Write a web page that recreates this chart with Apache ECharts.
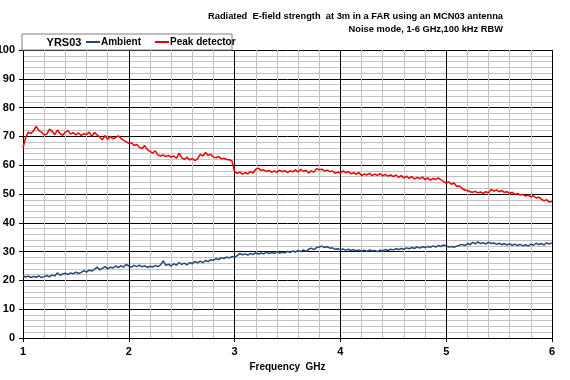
<!DOCTYPE html>
<html><head><meta charset="utf-8">
<script src="https://cdn.jsdelivr.net/npm/echarts@6/dist/echarts.min.js"></script>
<style>html,body{margin:0;padding:0;background:#fff}#c{width:570px;height:380px}</style>
</head><body><div id="c"></div>
<script>
const freq = [
1,1.025,1.05,1.075,1.1,1.125,1.15,1.175,1.2,1.225,1.25,1.275,1.3,1.325,1.35,1.375,1.4,1.425,1.45,1.475,
1.5,1.525,1.55,1.575,1.6,1.625,1.65,1.675,1.7,1.725,1.75,1.775,1.8,1.825,1.85,1.875,1.9,1.925,1.95,1.975,
2,2.025,2.05,2.075,2.1,2.125,2.15,2.175,2.2,2.225,2.25,2.275,2.3,2.325,2.35,2.375,2.4,2.425,2.45,2.475,
2.5,2.525,2.55,2.575,2.6,2.625,2.65,2.675,2.7,2.725,2.75,2.775,2.8,2.825,2.85,2.875,2.9,2.925,2.95,2.975,
3,3.025,3.05,3.075,3.1,3.125,3.15,3.175,3.2,3.225,3.25,3.275,3.3,3.325,3.35,3.375,3.4,3.425,3.45,3.475,
3.5,3.525,3.55,3.575,3.6,3.625,3.65,3.675,3.7,3.725,3.75,3.775,3.8,3.825,3.85,3.875,3.9,3.925,3.95,3.975,
4,4.025,4.05,4.075,4.1,4.125,4.15,4.175,4.2,4.225,4.25,4.275,4.3,4.325,4.35,4.375,4.4,4.425,4.45,4.475,
4.5,4.525,4.55,4.575,4.6,4.625,4.65,4.675,4.7,4.725,4.75,4.775,4.8,4.825,4.85,4.875,4.9,4.925,4.95,4.975,
5,5.025,5.05,5.075,5.1,5.125,5.15,5.175,5.2,5.225,5.25,5.275,5.3,5.325,5.35,5.375,5.4,5.425,5.45,5.475,
5.5,5.525,5.55,5.575,5.6,5.625,5.65,5.675,5.7,5.725,5.75,5.775,5.8,5.825,5.85,5.875,5.9,5.925,5.95,5.975,
6];
const peak = [
66,69.5,71.5,71,72,73.5,72,71.5,70.5,70.8,72.5,71.8,70.6,72.2,71,70.4,71.5,72,70.8,71.3,
70.5,71.2,70.3,71,70.6,71.5,70,71.4,70.5,69.8,68.8,70.3,69,70,69.2,69.6,70.2,69.4,68.6,68.2,
67.6,67.8,66.8,67.2,66.2,65.8,66.8,65.4,64.8,64.2,65,63.6,63.2,63.6,63,63.4,62.8,63.2,62.4,64.2,
62.6,62,62.8,61.8,62.4,61.6,62.2,63.8,63.2,64.4,63.4,63.8,62.8,62.6,63,62.2,62.4,62,61.9,61.5,
57.8,57.2,57.6,56.9,57.4,57,57.8,57.3,58.6,59,58.2,58.4,57.8,58.2,57.6,58,57.5,58.3,57.8,58.1,
57.4,58,57.7,58.4,57.6,58.6,57.9,58.2,57.3,58,57.6,58.8,58.4,58.6,58,58.3,57.8,58,57.2,57.6,
57.3,58,57.4,57.8,57,57.4,56.8,57.5,56.4,57,56.6,57.2,56.4,56.9,56.5,57.1,56.3,56.8,56.2,56.6,
56,56.6,55.8,56.4,55.6,56.2,55.4,56.1,55.2,55.8,55.3,55.9,55,55.6,54.8,55.4,55,55.6,54.9,54.4,
53.8,54.2,53.4,53.8,52.6,52.8,51.9,51.4,51.2,50.8,50.6,50.9,50.4,50.7,50.2,50.8,50.4,51.6,51,51.4,
50.8,51.2,50.6,50.8,50.2,50.6,49.8,50.2,49.6,49.9,49.3,49.6,49,49.4,48.6,48.9,48.2,47.6,48,47.2,
47.4];
const ambient = [
21.6,21.2,21.5,21,21.4,21.1,21.6,21,21.3,21.7,21.2,21.9,21.5,22.6,21.8,22.2,22.5,22,22.6,22.3,
22.9,22.4,22.8,23.4,22.9,23.6,23.2,23.8,24.6,23.7,24.2,24.8,24,24.6,24.3,25,24.4,25.1,24.6,25.6,
25,24.6,25.2,24.8,25.3,24.7,25.1,24.5,24.9,24.6,25.2,24.8,25.4,26.8,25.2,25.6,25,25.8,25.3,26.2,
25.6,26,25.4,26.2,25.8,26.6,26.1,26.7,26.2,26.9,26.5,27.2,27,27.6,27.2,27.9,27.6,28.1,27.8,28.3,
28.1,28.6,29.4,28.9,29.2,28.8,29.4,29,29.6,29.1,29.5,29.2,29.8,29.3,29.7,29.4,29.9,29.5,29.8,29.6,
30.1,29.7,30.2,29.8,30.4,30,30.6,30.1,30.8,31.2,30.7,31.4,31.6,31.9,31.4,31.7,31.2,31.3,30.8,31,
30.6,30.9,30.5,30.8,30.4,30.7,30.3,30.6,30.2,30.5,30.1,30.6,30.2,30.4,30,30.5,30.3,30.7,30.4,30.8,
30.6,31,30.7,31.1,30.8,31.3,31,31.4,31.1,31.6,31.2,31.7,31.4,31.8,31.5,32,31.6,32.1,31.8,32.3,
32,31.6,31.8,31.5,31.9,32.2,32.5,32.1,32.8,32.4,33.2,32.7,33.4,32.8,33.1,32.6,33.3,32.8,33,32.5,
32.9,32.4,32.8,32.3,32.7,32.2,32.6,32.1,32.5,32,32.4,31.9,32.6,32.2,32.9,32.4,32.8,32.3,33,32.6,
33.1];
const seriesNames = ['Ambient', 'Peak detector'];
const titleLines = ['Radiated  E-field strength  at 3m in a FAR using an MCN03 antenna', 'Noise mode, 1-6 GHz,100 kHz RBW'];
const legendTag = 'YRS03';
const xName = 'Frequency  GHz';

const FONT = '"Liberation Sans", Arial, sans-serif';
const chart = echarts.init(document.getElementById('c'), null, {renderer: 'canvas'});
const pairs = arr => freq.map((f, i) => [f, arr[i]]);
chart.setOption({
  animation: false,
  backgroundColor: '#fff',
  textStyle: {fontFamily: FONT},
  grid: {left: 23, right: 18, top: 50, bottom: 42, containLabel: false, outerBoundsMode: 'none'},
  graphic: [
    {type: 'rect', shape: {x: 22, y: 34, width: 210, height: 16}, style: {fill: '#fff', stroke: '#7f7f7f', lineWidth: 1}, z: 10},
    {type: 'text', x: 64, y: 42.5, style: {text: legendTag, font: 'bold 11px ' + FONT, fill: '#000', align: 'center', verticalAlign: 'middle'}, z: 11},
    {type: 'text', x: 503, y: 16, style: {text: titleLines[0], font: 'bold 9.3px ' + FONT, fill: '#000', align: 'right', verticalAlign: 'middle'}},
    {type: 'text', x: 503, y: 29.5, style: {text: titleLines[1], font: 'bold 9.3px ' + FONT, fill: '#000', align: 'right', verticalAlign: 'middle'}}
  ],
  legend: {
    left: 86, top: 37, z: 12, padding: 0,
    icon: 'rect', itemWidth: 14, itemHeight: 2, itemGap: 14,
    textStyle: {fontFamily: FONT, fontWeight: 'bold', fontSize: 10, color: '#000', padding: [0, 0, 0, -4]},
    data: seriesNames
  },
  xAxis: {
    type: 'value', min: 1, max: 6, interval: 1,
    name: xName, nameLocation: 'middle', nameGap: 24,
    nameTextStyle: {fontFamily: FONT, fontWeight: 'bold', fontSize: 10, color: '#000'},
    axisLine: {show: true, lineStyle: {color: '#000', width: 1}},
    axisTick: {show: true, length: 4, lineStyle: {color: '#000'}},
    axisLabel: {fontFamily: FONT, fontWeight: 'bold', fontSize: 11, color: '#000', margin: 8},
    splitLine: {show: true, lineStyle: {color: '#000', width: 1}},
    minorTick: {show: false, splitNumber: 5},
    minorSplitLine: {show: true, lineStyle: {color: '#c4c4c4', width: 1}}
  },
  yAxis: {
    type: 'value', min: 0, max: 100, interval: 10,
    axisLine: {show: true, lineStyle: {color: '#000', width: 1}},
    axisTick: {show: true, length: 4, lineStyle: {color: '#000'}},
    axisLabel: {fontFamily: FONT, fontWeight: 'bold', fontSize: 11, color: '#000', margin: 8},
    splitLine: {show: true, lineStyle: {color: '#000', width: 1}},
    minorTick: {show: false, splitNumber: 5},
    minorSplitLine: {show: true, lineStyle: {color: '#c4c4c4', width: 1}}
  },
  series: [
    {name: seriesNames[0], type: 'line', showSymbol: false, data: pairs(ambient), lineStyle: {color: '#27497a', width: 1.5}, itemStyle: {color: '#27497a'}},
    {name: seriesNames[1], type: 'line', showSymbol: false, data: pairs(peak), lineStyle: {color: '#ee0000', width: 1.5}, itemStyle: {color: '#ee0000'}}
  ]
});
</script>
</body></html>
